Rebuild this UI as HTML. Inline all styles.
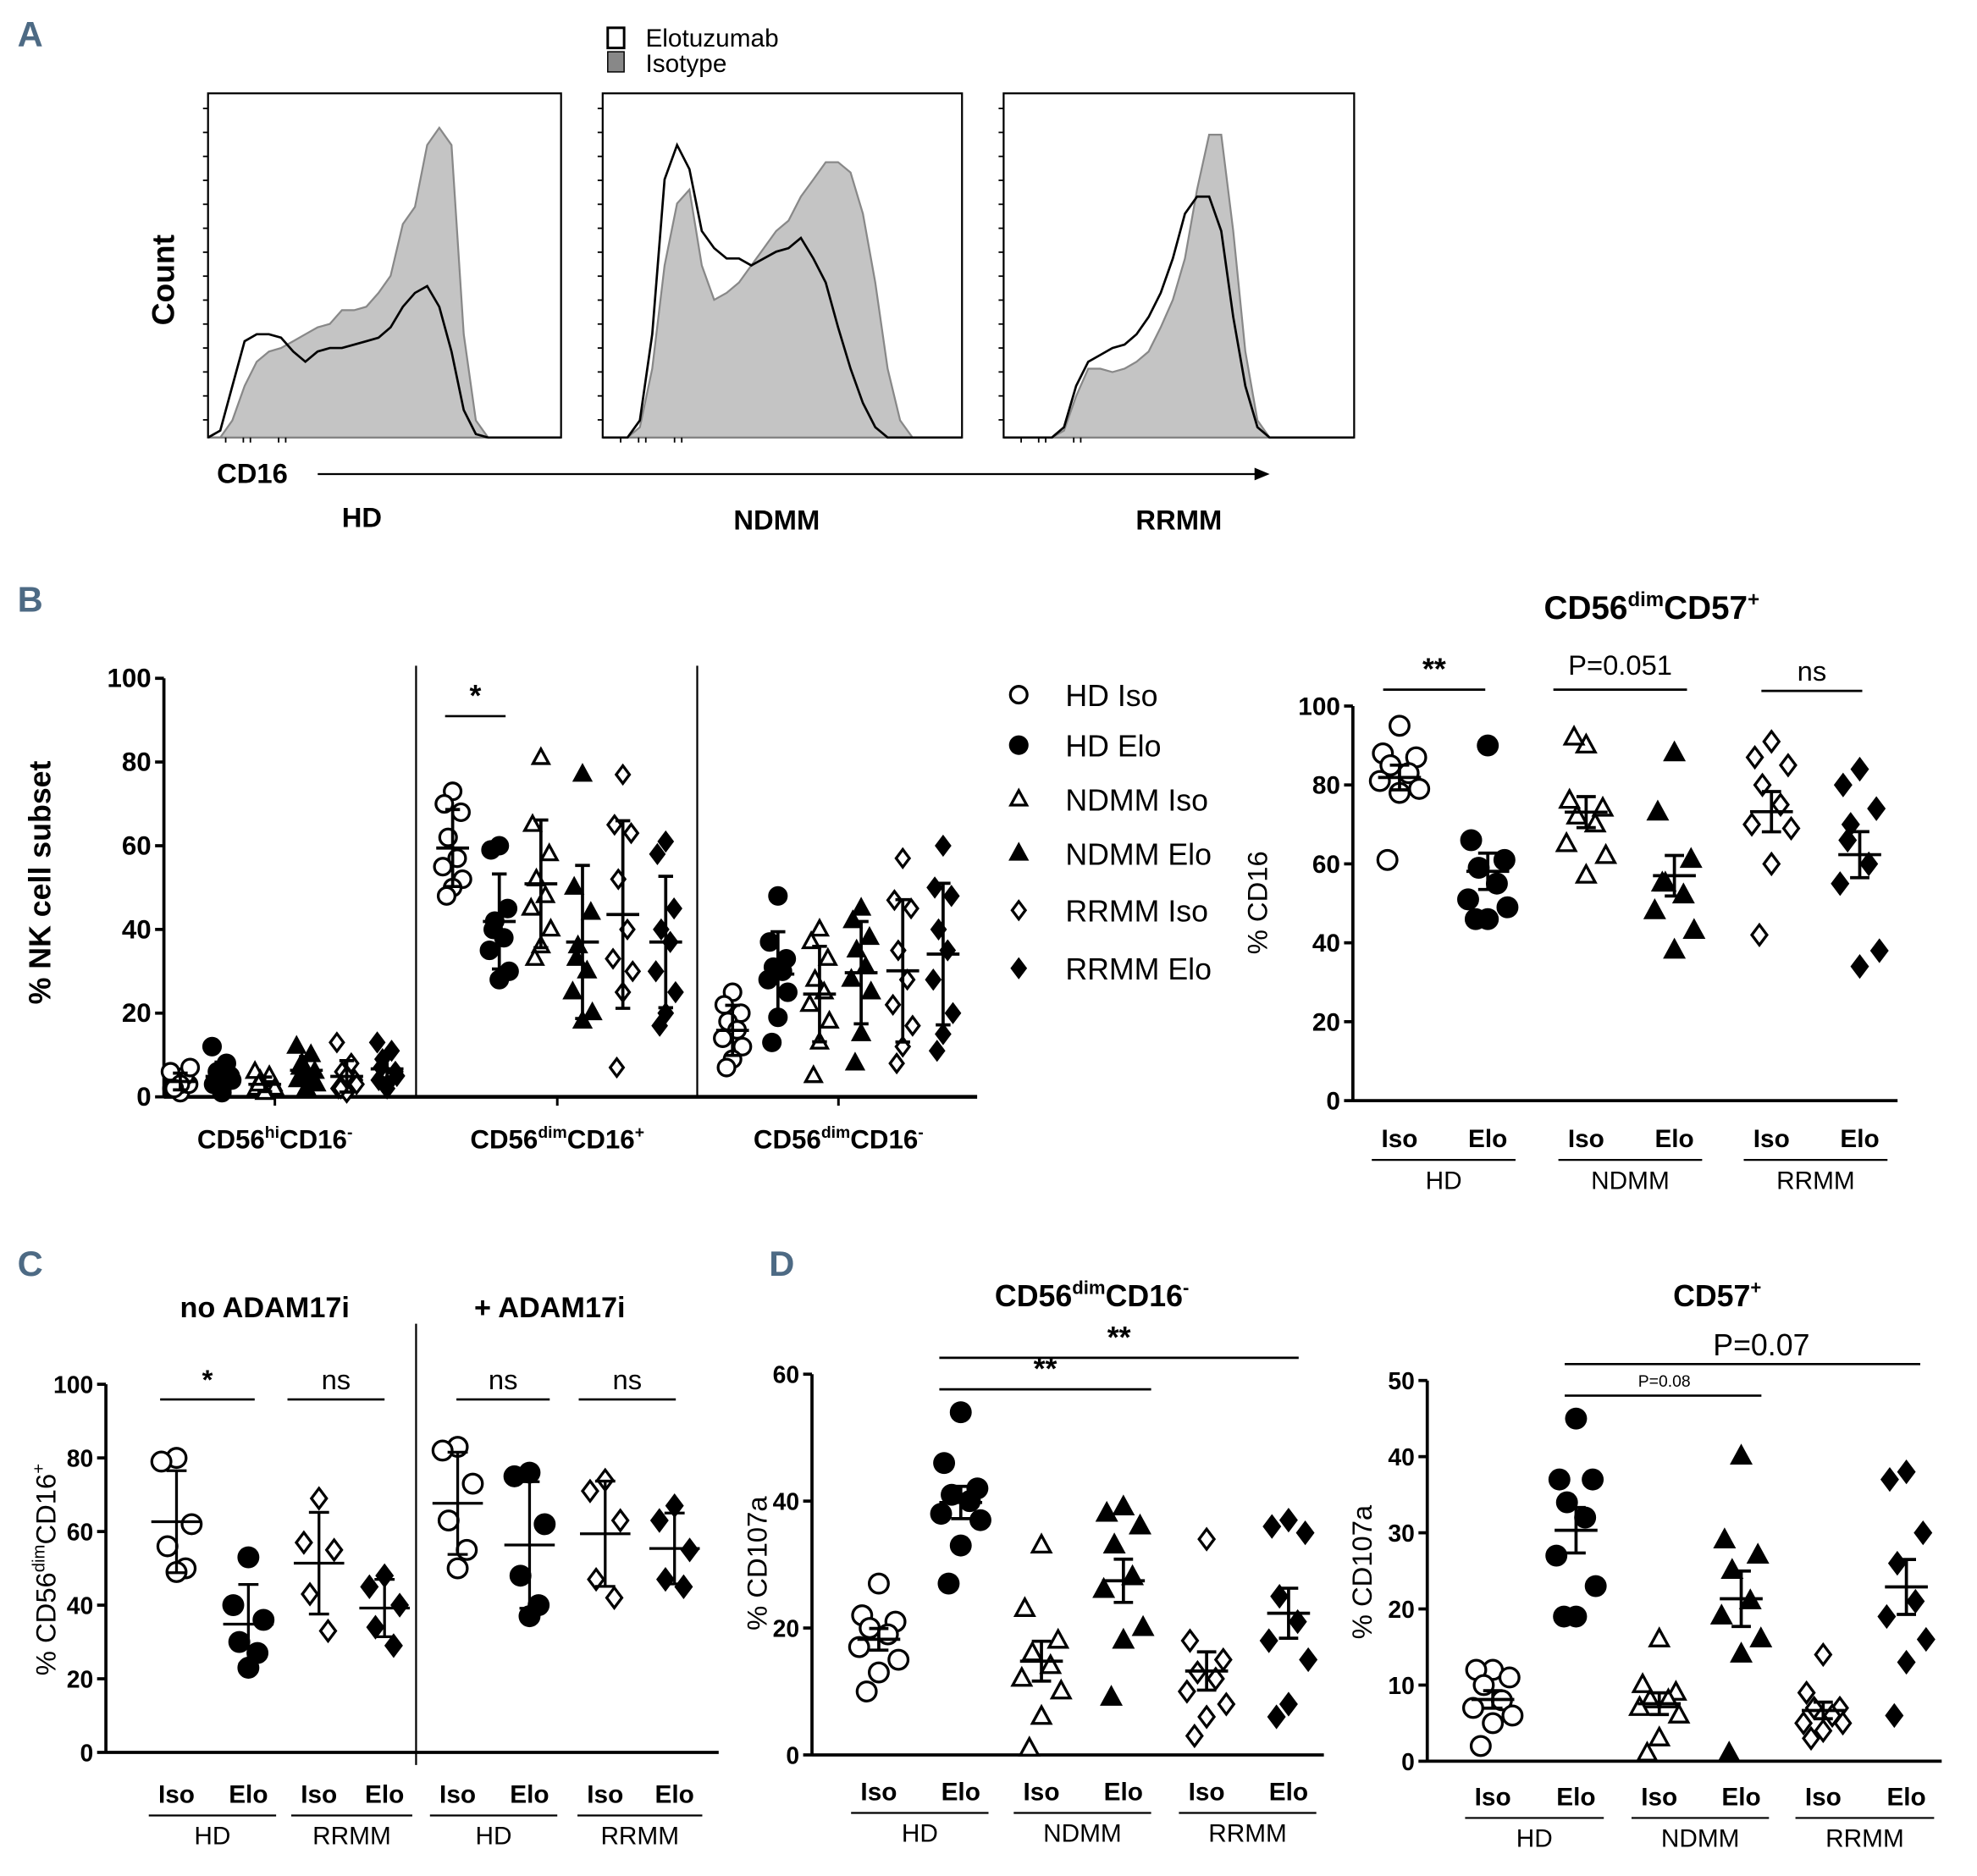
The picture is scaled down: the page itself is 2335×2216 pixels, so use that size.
<!DOCTYPE html>
<html><head><meta charset="utf-8"><style>
html,body{margin:0;padding:0;background:#fff;}
svg{display:block;font-family:"Liberation Sans Narrow","Liberation Sans",sans-serif;}
</style></head>
<body>
<svg id="fig" width="2335" height="2216" viewBox="0 0 1568 1488" xmlns="http://www.w3.org/2000/svg"></svg>
<script>
// ---------- DATA ----------
const histHDIso=[0,0,0.05,0.15,0.22,0.25,0.26,0.28,0.3,0.32,0.33,0.37,0.37,0.38,0.42,0.47,0.62,0.67,0.85,0.9,0.85,0.3,0.05,0,0,0,0,0,0,0];
const histHDElo=[0,0.02,0.15,0.28,0.3,0.3,0.29,0.25,0.22,0.25,0.26,0.26,0.27,0.28,0.29,0.32,0.38,0.42,0.44,0.38,0.25,0.08,0.01,0,0,0,0,0,0,0];
const histNDIso=[0,0,0,0.03,0.2,0.5,0.68,0.72,0.5,0.4,0.42,0.45,0.5,0.55,0.6,0.63,0.7,0.75,0.8,0.8,0.77,0.65,0.45,0.2,0.05,0,0,0,0,0];
const histNDElo=[0,0,0,0.05,0.3,0.75,0.85,0.78,0.6,0.55,0.52,0.52,0.5,0.52,0.54,0.55,0.58,0.52,0.45,0.32,0.2,0.1,0.03,0,0,0,0,0,0,0];
const histRRIso=[0,0,0,0,0,0.02,0.12,0.2,0.2,0.19,0.2,0.22,0.25,0.32,0.4,0.52,0.72,0.88,0.88,0.6,0.25,0.05,0,0,0,0,0,0,0,0];
const histRRElo=[0,0,0,0,0,0.03,0.15,0.22,0.24,0.26,0.27,0.3,0.35,0.42,0.52,0.65,0.7,0.7,0.6,0.35,0.15,0.03,0,0,0,0,0,0,0,0];
const bTicks=[0,20,40,60,80,100];
const bG1=[[1,2,3,4,5,6,7,3,2],[2,3,5,6,8,12,4,1,3],[1,2,3,4,5,6,2,1,3],[2,4,6,8,10,12,3,5,7],[1,2,4,6,8,13,3,5,2],[2,4,6,9,11,13,5,3,7]];
const bG2=[[73,70,68,62,57,55,52,50,48],[60,59,45,42,38,35,30,28,40],[81,65,58,52,48,45,40,36,33],[77,50,44,36,30,25,20,18,33],[77,65,63,52,40,33,30,25,7],[61,58,45,40,37,30,25,20,17]];
const bG3=[[25,22,20,18,16,14,12,9,7],[48,37,33,31,30,28,25,19,13],[40,37,33,28,25,22,18,13,5],[45,42,38,35,31,28,25,15,8],[57,47,45,35,28,22,17,12,8],[60,50,48,40,35,28,20,15,11]];
const legendLabels=["HD Iso","HD Elo","NDMM Iso","NDMM Elo","RRMM Iso","RRMM Elo"];
const b2Ticks=[0,20,40,60,80,100];
const b2=[[95,88,87,85,83,81,79,78,61],[90,66,61,59,55,51,49,46,46],[90,76,74,72,70,65,62,57,92],[88,73,61,55,52,48,43,38,55],[91,87,85,80,75,70,69,60,42],[84,80,74,70,60,55,38,34,66]];
const cTicks=[0,20,40,60,80,100];
const cNo=[[80,79,62,56,50,49],[53,40,36,30,27,23],[69,57,55,43,33],[48,45,40,34,29]];
const cPlus=[[83,82,73,63,55,50],[76,75,62,48,40,37],[74,71,63,47,42],[67,63,55,47,45]];
const dTicks=[0,20,40,60];
const d1=[[27,22,21,20,19,17,15,13,10],[54,46,42,41,40,38,37,33,27],[33,23,18,16,14,12,10,6,1],[39,38,36,33,28,26,20,18,9],[34,18,15,13,12,10,8,6,3],[37,36,35,25,21,18,15,8,6]];
const d2Ticks=[0,10,20,30,40,50];
const d2=[[12,12,11,10,8,7,6,5,2],[45,37,37,34,32,27,23,19,19],[16,10,9,8,8,7,6,3,1],[40,29,27,25,21,19,16,14,1],[14,9,7,7,6,5,5,4,3],[38,37,30,26,21,19,16,13,6]];
const types=['oc','fc','ot','ft','od','fd'];

// ---------- HELPERS ----------
const NS="http://www.w3.org/2000/svg";
const svg=document.getElementById('fig');
function mk(tag,attrs,name,parent){
  const e=document.createElementNS(NS,tag);
  for(const k in attrs)e.setAttribute(k,attrs[k]);
  
  
  (parent||svg).appendChild(e);return e;
}
function line(x1,y1,x2,y2,w,name,col){return mk('line',{x1,y1,x2,y2,stroke:col||'#000','stroke-width':w||2},name);}
function text(x,y,s,size,name,opt){
  opt=opt||{};
  const t=mk('text',{x,y,'font-size':size,'text-anchor':opt.anchor||'middle','font-weight':opt.bold===false?'normal':'bold',fill:opt.fill||'#000'},name);
  if(opt.rot)t.setAttribute('transform','rotate(-90 '+x+' '+y+')');
  if(opt.family)t.setAttribute('font-family',opt.family);
  t.textContent=s;return t;
}
function richText(x,y,parts,size,name,anchor,opt){
  opt=opt||{};
  const t=mk('text',{x,y,'font-size':size,'text-anchor':anchor||'middle','font-weight':opt.bold===false?'normal':'bold'},name);
  if(opt.rot)t.setAttribute('transform','rotate(-90 '+x+' '+y+')');
  parts.forEach(p=>{const s=document.createElementNS(NS,'tspan');
    if(p[1]){s.setAttribute('font-size',size*0.62);s.setAttribute('dy',-size*0.4);}
    else if(p[2]){s.setAttribute('dy',size*0.4);}
    s.textContent=p[0];t.appendChild(s);});
  return t;
}
function marker(type,cx,cy,r,name){
  const fill=type[0]==='f'?'#000':'#fff';
  const a={fill,stroke:'#000','stroke-width':2.2};
  if(type[1]==='c'){a.cx=cx;a.cy=cy;a.r=r*0.95;return mk('circle',a,name);}
  if(type[1]==='t'){a.points=`${cx},${cy-r} ${cx+r*0.9},${cy+r*0.65} ${cx-r*0.9},${cy+r*0.65}`;return mk('polygon',a,name);}
  a.points=`${cx},${cy-r} ${cx+r*0.75},${cy} ${cx},${cy+r} ${cx-r*0.75},${cy}`;return mk('polygon',a,name);
}
const mean=a=>a.reduce((s,v)=>s+v,0)/a.length;
const sd=a=>{const m=mean(a);return Math.sqrt(a.reduce((s,v)=>s+(v-m)*(v-m),0)/(a.length-1));};
const sem=a=>sd(a)/Math.sqrt(a.length);
const jit=[0,-11,11,-6,6,-13,13,0,-8];

function yAxis(x,yTop,yBot,max,ticks,name,fs){
  const sc=v=>yBot-(v/max)*(yBot-yTop);
  line(x,yTop,x,yBot+1,2.5,name+'-line');
  ticks.forEach(t=>{line(x-7,sc(t),x,sc(t),2.5,name+'-tick');text(x-10,sc(t)+7,String(t),fs||20,name+'-tick-label',{anchor:'end'});});
  return sc;
}
function scatterGroup(data,xs,sc,err,hw,name,size,jm){
  data.forEach((arr,i)=>{
    arr.forEach((v,j)=>marker(types[i],xs[i]+jit[j%jit.length]*jm,sc(v),size,name+'-point'));
    const m=mean(arr),e=err==='sd'?sd(arr):sem(arr);
    line(xs[i],sc(m+e),xs[i],sc(m-e),2.5,name+'-error-bar');
    line(xs[i]-hw,sc(m),xs[i]+hw,sc(m),2.5,name+'-mean-line');
    line(xs[i]-hw*0.45,sc(m+e),xs[i]+hw*0.45,sc(m+e),2.5,name+'-error-cap');
    line(xs[i]-hw*0.45,sc(m-e),xs[i]+hw*0.45,sc(m-e),2.5,name+'-error-cap');
  });
}
function groupLabels(xs,y,groups,name){
  xs.forEach((x,i)=>text(x,y,i%2?'Elo':'Iso',20,name+'-condition-label'));
  groups.forEach((g,k)=>{const a=xs[2*k],b=xs[2*k+1];
    line(a-22,y+10,b+22,y+10,1.5,name+'-group-line');
    text((a+b)/2,y+33,g,20,name+'-group-label',{bold:false});});
}
function sig(x1,x2,y,label,name,size,opt){
  line(x1,y,x2,y,1.8,name+'-line');
  text((x1+x2)/2,y-8,label,size||22,name+'-label',opt);
}
const panelLbl=(x,y,s)=>text(x,y,s,28,'panel-label-'+s.toLowerCase(),{fill:'#4d6a84'});

// ---------- PANEL A ----------
panelLbl(24,37,'A');
mk('rect',{x:482,y:22,width:13,height:16,fill:'#fff',stroke:'#000','stroke-width':2},'legend-elotuzumab-swatch');
mk('rect',{x:482,y:41,width:13,height:16,fill:'#888',stroke:'#000','stroke-width':1},'legend-isotype-swatch');
text(512,37,'Elotuzumab',20,'legend-elotuzumab-label',{anchor:'start',bold:false});
text(512,57,'Isotype',20,'legend-isotype-label',{anchor:'start',bold:false});
function hist(x0,w,iso,elo,name){
  const top=74,bot=347,h=bot-top;
  mk('rect',{x:x0,y:top,width:w,height:h,fill:'none',stroke:'#000','stroke-width':1.5},name+'-frame');
  const bx=i=>x0+i*w/(iso.length-1);
  const path=a=>a.map((v,i)=>(i?'L':'M')+bx(i).toFixed(1)+','+(bot-v*h).toFixed(1)).join(' ');
  mk('path',{d:path(iso)+` L${x0+w},${bot} L${x0},${bot} Z`,fill:'#c4c4c4',stroke:'#888','stroke-width':1.5},name+'-isotype-area');
  mk('path',{d:path(elo),fill:'none',stroke:'#000','stroke-width':1.8},name+'-elotuzumab-line');
  for(let k=0;k<14;k++)line(x0-4,top+12+k*19,x0,top+12+k*19,1.2,name+'-y-tick');
  [0.05,0.1,0.12,0.2,0.22].forEach(f=>line(x0+w*f,bot,x0+w*f,bot+4,1.2,name+'-x-tick'));
}
hist(165,280,histHDIso,histHDElo,'hist-hd');
hist(478,285,histNDIso,histNDElo,'hist-ndmm');
hist(796,278,histRRIso,histRRElo,'hist-rrmm');
text(138,222,'Count',25,'count-axis-title',{rot:true});
text(172,383,'CD16',22,'cd16-axis-title',{anchor:'start'});
line(252,376,1000,376,1.5,'cd16-arrow-line');
mk('polygon',{points:'1007,376 995,371 995,381',fill:'#000'},'cd16-arrow-head');
text(287,418,'HD',22,'hist-hd-label');
text(616,420,'NDMM',22,'hist-ndmm-label');
text(935,420,'RRMM',22,'hist-rrmm-label');

// ---------- PANEL B left ----------
panelLbl(24,485,'B');
const scB=yAxis(130,538,870,100,bTicks,'nk-y-axis',21);
line(130,870,775,870,3,'nk-x-axis');
line(330,528,330,870,1.5,'divider-1');line(553,528,553,870,1.5,'divider-2');
[218,442,665].forEach(x=>line(x,870,x,877,2,'nk-x-tick'));
text(40,700,'% NK cell subset',24,'nk-y-axis-title',{rot:true});
scatterGroup(bG1,[143,176,210,243,275,307],scB,'sd',13,'cd56hi-cd16neg',7,0.6);
scatterGroup(bG2,[359,396,429,462,494,528],scB,'sd',13,'cd56dim-cd16pos',7,0.6);
scatterGroup(bG3,[581,617,650,683,716,748],scB,'sd',13,'cd56dim-cd16neg',7,0.6);
richText(218,911,[['CD56'],['hi',1],['CD16',0,1],['-',1]],21,'subset-label-1');
richText(442,911,[['CD56'],['dim',1],['CD16',0,1],['+',1]],21,'subset-label-2');
richText(665,911,[['CD56'],['dim',1],['CD16',0,1],['-',1]],21,'subset-label-3');
sig(353,401,568,'*','nk-sig',24);
legendLabels.forEach((l,i)=>{const y=[551,591,634,677,722,768][i];
  marker(types[i],808,y,7,'legend-marker');
  text(845,y+9,l,24,'legend-label',{anchor:'start',bold:false});});

// ---------- PANEL B right ----------
richText(1310,491,[['CD56'],['dim',1],['CD57',0,1],['+',1]],26,'cd57-title');
const scB2=yAxis(1073,560,873,100,b2Ticks,'cd16-y-axis',20);
line(1073,873,1505,873,2.5,'cd16-x-axis');
text(1005,716,'% CD16',22,'cd16-y-axis-title',{rot:true,bold:false});
const xsB2=[1110,1180,1258,1328,1405,1475];
scatterGroup(b2,xsB2,scB2,'sem',17,'cd57-cd16',8,1.2);
groupLabels(xsB2,910,['HD','NDMM','RRMM'],'cd57-cd16');
sig(1097,1178,547,'**','cd57-sig-hd',24);
line(1232,547,1338,547,1.8,'cd57-sig-ndmm-line');
text(1285,535,'P=0.051',22,'cd57-sig-ndmm-label',{bold:false});
sig(1397,1477,548,'ns','cd57-sig-rrmm',22,{bold:false});

// ---------- PANEL C ----------
panelLbl(24,1012,'C');
const scC=yAxis(84,1098,1390,100,cTicks,'c-y-axis',19);
line(84,1390,570,1390,2.5,'c-x-axis');
line(330,1050,330,1400,1.5,'c-divider');
richText(44,1245,[['% CD56'],['dim',1],['CD16',0,1],['+',1]],22,'c-y-axis-title','middle',{rot:true,bold:false});
text(210,1045,'no ADAM17i',23,'no-adam17i-title');
text(436,1045,'+ ADAM17i',23,'plus-adam17i-title');
const xsC1=[140,197,253,305],xsC2=[363,420,480,535];
const jitC=[0,-10,10,-6,6,0];
function scatterC(data,xs,name){
  data.forEach((arr,i)=>{const t=types[[0,1,4,5][i]];
    arr.forEach((v,j)=>marker(t,xs[i]+jitC[j]*1.2,scC(v),8,name+'-point'));
    const m=mean(arr),e=sd(arr);
    line(xs[i],scC(m+e),xs[i],scC(m-e),2.2,name+'-error-bar');
    line(xs[i]-20,scC(m),xs[i]+20,scC(m),2.2,name+'-mean-line');
    line(xs[i]-8,scC(m+e),xs[i]+8,scC(m+e),2.2,name+'-error-cap');
    line(xs[i]-8,scC(m-e),xs[i]+8,scC(m-e),2.2,name+'-error-cap');});
}
scatterC(cNo,xsC1,'c-no-adam');scatterC(cPlus,xsC2,'c-plus-adam');
groupLabels(xsC1,1430,['HD','RRMM'],'c-no-adam');
groupLabels(xsC2,1430,['HD','RRMM'],'c-plus-adam');
sig(127,202,1110,'*','c-sig-1',22);
sig(228,305,1110,'ns','c-sig-2',22,{bold:false});
sig(362,436,1110,'ns','c-sig-3',22,{bold:false});
sig(459,536,1110,'ns','c-sig-4',22,{bold:false});

// ---------- PANEL D ----------
panelLbl(620,1012,'D');
const scD1=yAxis(644,1090,1392,60,dTicks,'d1-y-axis',19);
line(644,1392,1050,1392,2.5,'d1-x-axis');
text(608,1240,'% CD107a',22,'d1-y-axis-title',{rot:true,bold:false});
richText(866,1036,[['CD56'],['dim',1],['CD16',0,1],['-',1]],24,'d1-title');
const xsD1=[697,762,826,891,957,1022];
scatterGroup(d1,xsD1,scD1,'sem',17,'d1',8,1.2);
groupLabels(xsD1,1428,['HD','NDMM','RRMM'],'d1');
sig(745,1030,1077,'**','d1-sig-rrmm',24);
sig(745,913,1102,'**','d1-sig-ndmm',24);

const scD2=yAxis(1132,1095,1397,50,d2Ticks,'d2-y-axis',19);
line(1132,1397,1540,1397,2.5,'d2-x-axis');
text(1088,1247,'% CD107a',22,'d2-y-axis-title',{rot:true,bold:false});
richText(1362,1036,[['CD57'],['+',1]],24,'d2-title');
const xsD2=[1184,1250,1316,1381,1446,1512];
scatterGroup(d2,xsD2,scD2,'sem',17,'d2',8,1.2);
groupLabels(xsD2,1432,['HD','NDMM','RRMM'],'d2');
line(1241,1082,1523,1082,1.8,'d2-sig-rrmm-line');
text(1397,1075,'P=0.07',24,'d2-sig-rrmm-label',{bold:false});
line(1241,1107,1397,1107,1.8,'d2-sig-ndmm-line');
text(1320,1100,'P=0.08',13,'d2-sig-ndmm-label',{bold:false});
</script>
</body></html>
